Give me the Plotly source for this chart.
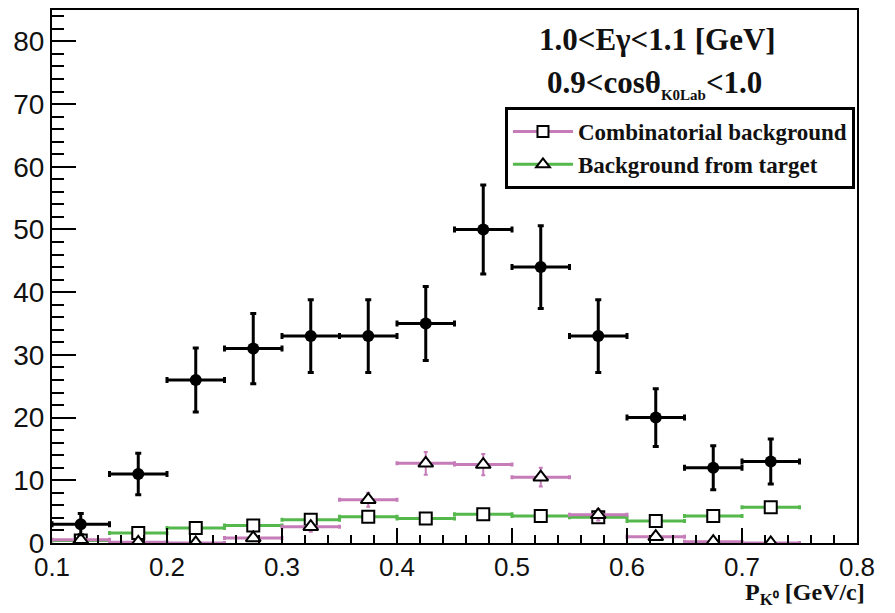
import plotly.graph_objects as go

# Kaon momentum bins (centres, GeV/c) and half bin width
p_bins = [0.125, 0.175, 0.225, 0.275, 0.325, 0.375, 0.425,
          0.475, 0.525, 0.575, 0.625, 0.675, 0.725]
half_width = 0.025

# Measured yield
yield_counts = [3, 11, 26, 31, 33, 33, 35, 50, 44, 33, 20, 12, 13]
yield_err = [1.7, 3.3, 5.1, 5.6, 5.8, 5.8, 5.9, 7.1, 6.6, 5.8, 4.6, 3.5, 3.6]

# Combinatorial background (magenta histogram)
comb_bg = [0.5, 0.1, 0.0, 0.8, 2.6, 6.9, 12.7, 12.5, 10.5, 4.5, 1.0, 0.2, 0.0]
comb_err = [0.4, 0.2, 0.2, 0.5, 0.8, 1.1, 1.8, 1.7, 1.5, 0.9, 0.5, 0.3, 0.2]

# Background from target (green histogram)
target_bg = [0.4, 1.6, 2.4, 2.8, 3.7, 4.2, 3.9, 4.6, 4.3, 4.1, 3.5, 4.3, 5.7]
target_err = [0.3, 0.4, 0.4, 0.4, 0.5, 0.5, 0.5, 0.5, 0.5, 0.5, 0.5, 0.5, 0.6]

PINK = "#c57cb8"
GREEN = "#55b84c"
SERIF = "Liberation Serif"
SANS = "Liberation Sans"

fig = go.Figure()

fig.add_trace(go.Scatter(
    x=p_bins, y=target_bg, mode="markers", showlegend=False,
    marker=dict(symbol="square", size=12, color="white",
                line=dict(color="black", width=2)),
    error_x=dict(type="constant", value=half_width, color=GREEN,
                 thickness=3, width=2),
    error_y=dict(type="data", array=target_err, color=GREEN,
                 thickness=2, width=2),
))

fig.add_trace(go.Scatter(
    x=p_bins, y=comb_bg, mode="markers", showlegend=False,
    marker=dict(symbol="triangle-up", size=13, color="white",
                line=dict(color="black", width=2)),
    error_x=dict(type="constant", value=half_width, color=PINK,
                 thickness=3, width=2),
    error_y=dict(type="data", array=comb_err, color=PINK,
                 thickness=2, width=2),
))

fig.add_trace(go.Scatter(
    x=p_bins, y=yield_counts, mode="markers", showlegend=False,
    marker=dict(symbol="circle", size=12, color="black"),
    error_x=dict(type="constant", value=half_width, color="black",
                 thickness=3, width=3),
    error_y=dict(type="data", array=yield_err, color="black",
                 thickness=3, width=3),
))

# Legend entries
fig.add_trace(go.Scatter(
    x=[None], y=[None], mode="lines+markers", name="Combinatorial background",
    line=dict(color=PINK, width=3),
    marker=dict(symbol="square", size=11, color="white",
                line=dict(color="black", width=2)),
))
fig.add_trace(go.Scatter(
    x=[None], y=[None], mode="lines+markers", name="Background from target",
    line=dict(color=GREEN, width=3),
    marker=dict(symbol="triangle-up", size=12, color="white",
                line=dict(color="black", width=2)),
))

axis_common = dict(
    showline=True, linecolor="black", linewidth=2, mirror=True,
    ticks="inside", tickcolor="black", tickwidth=2,
    showgrid=False, zeroline=False,
)

fig.update_xaxes(
    range=[0.1, 0.8], dtick=0.1, tick0=0.1, ticklen=15,
    tickformat=".1f",
    tickfont=dict(family=SANS, size=26, color="#111111"),
    minor=dict(dtick=0.02, ticklen=8, tickwidth=2, tickcolor="black",
               ticks="inside", showgrid=False),
    **axis_common,
)
fig.update_yaxes(
    range=[0, 85], dtick=10, tick0=0, ticklen=24,
    tickfont=dict(family=SANS, size=28, color="#111111"),
    minor=dict(dtick=2, ticklen=12, tickwidth=2, tickcolor="black",
               ticks="inside", showgrid=False),
    **axis_common,
)

fig.add_annotation(
    xref="paper", yref="paper", x=0.752, y=0.944,
    text="<b>1.0&lt;Eγ&lt;1.1 [GeV]</b>", showarrow=False,
    font=dict(family=SERIF, size=31, color="#111111"),
    xanchor="center", yanchor="middle",
)
fig.add_annotation(
    xref="paper", yref="paper", x=0.748, y=0.862,
    text="<b>0.9&lt;cosθ<sub><span style='font-size:15px'>K0Lab</span></sub>&lt;1.0</b>",
    showarrow=False,
    font=dict(family=SERIF, size=31, color="#111111"),
    xanchor="center", yanchor="middle",
)
fig.add_annotation(
    xref="paper", yref="paper", x=1.012, y=-0.128,
    text="<b>P<sub>K⁰</sub> [GeV/c]</b>", showarrow=False,
    font=dict(family=SERIF, size=24, color="#111111"),
    xanchor="right", yanchor="bottom",
)

fig.update_layout(
    width=895, height=613,
    margin=dict(l=52, r=38, t=8, b=70),
    paper_bgcolor="white", plot_bgcolor="white",
    legend=dict(
        x=0.9975, y=0.818, xanchor="right", yanchor="top",
        bgcolor="white", bordercolor="black", borderwidth=3,
        font=dict(family=SERIF, size=23, color="#111111", weight="bold"),
        itemwidth=60, tracegroupgap=0,
    ),
)

fig.write_html("out.html")
